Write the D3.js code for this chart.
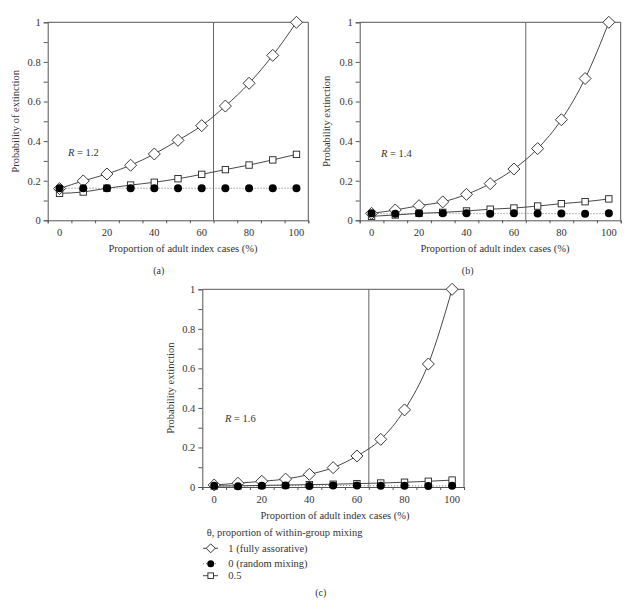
<!DOCTYPE html>
<html><head><meta charset="utf-8">
<script src="https://cdn.jsdelivr.net/npm/d3@7"></script>
<style>body{margin:0;background:#fff}svg{display:block}text{font-family:"Liberation Serif","Times New Roman","DejaVu Serif",serif;fill:#333}</style>
</head><body>
<svg id="c" width="641" height="603" font-family="Liberation Serif, serif"></svg>
<script>
const xs = [0,10,20,30,40,50,60,70,80,90,100];
const xTickLabels = [0,20,40,60,80,100];
const yTickLabels = [0,0.2,0.4,0.6,0.8,1];
const refLine = 65;
// Panel (a) R = 1.2
const aFull = [0.16,0.199,0.234,0.278,0.335,0.404,0.478,0.577,0.692,0.833,1.0];
const aRandom = [0.162,0.162,0.162,0.162,0.162,0.162,0.162,0.162,0.162,0.162,0.162];
const aHalf = [0.136,0.143,0.162,0.178,0.192,0.21,0.232,0.256,0.279,0.305,0.333];
// Panel (b) R = 1.4
const bFull = [0.035,0.052,0.074,0.093,0.131,0.185,0.259,0.362,0.508,0.716,1.0];
const bRandom = [0.035,0.033,0.035,0.036,0.035,0.033,0.036,0.034,0.034,0.033,0.035];
const bHalf = [0.02,0.027,0.035,0.04,0.047,0.056,0.062,0.072,0.084,0.094,0.108];
// Panel (c) R = 1.6
const cFull = [0.01,0.019,0.029,0.04,0.064,0.098,0.157,0.241,0.39,0.622,1.0];
const cRandom = [0.006,0.004,0.006,0.008,0.005,0.008,0.007,0.006,0.006,0.005,0.006];
const cHalf = [0.005,0.006,0.008,0.01,0.012,0.014,0.017,0.02,0.024,0.029,0.035];
const legendTitle = "θ, proportion of within-group mixing";
const legendLabels = ["1 (fully assorative)","0 (random mixing)","0.5"];

const svg = d3.select("#c");
const FONT = '"Liberation Serif","Times New Roman",serif';
const lineCol = "#333", axisCol = "#555";

function diamond(g, x, y, r){
  g.append("path").attr("d",`M${x},${y-r}L${x+r},${y}L${x},${y+r}L${x-r},${y}Z`)
   .attr("fill","#fff").attr("stroke","#222").attr("stroke-width",0.9);
}
function square(g, x, y, r){
  g.append("rect").attr("x",x-r).attr("y",y-r).attr("width",2*r).attr("height",2*r)
   .attr("fill","#fff").attr("stroke","#222").attr("stroke-width",0.9);
}
function dot(g, x, y, r){
  g.append("circle").attr("cx",x).attr("cy",y).attr("r",r).attr("fill","#000");
}

function panel(o){
  const x = d3.scaleLinear().domain([-5,105]).range([o.l,o.r]);
  const y = d3.scaleLinear().domain([0,1]).range([o.b,o.t]);
  const g = svg.append("g").style("font-family",FONT);
  // frame
  g.append("line").attr("x1",o.l).attr("x2",o.r).attr("y1",o.t).attr("y2",o.t).attr("stroke",axisCol);
  g.append("line").attr("x1",o.r).attr("x2",o.r).attr("y1",o.t).attr("y2",o.b).attr("stroke",axisCol);
  // y axis
  const ya = d3.axisLeft(y).tickValues(d3.range(0,1.01,0.1)).tickSize(4)
    .tickFormat(d => yTickLabels.some(v=>Math.abs(v-d)<1e-6) ? d3.format("~g")(+d.toFixed(1)) : "");
  const gy = g.append("g").attr("transform",`translate(${o.l},0)`).call(ya);
  // x axis
  const xa = d3.axisBottom(x).tickValues(d3.range(-5,106,10)).tickSize(3).tickFormat("");
  const gx = g.append("g").attr("transform",`translate(0,${o.b})`).call(xa);
  [gx,gy].forEach(a=>{a.attr("font-family",null);a.select(".domain").attr("stroke",axisCol);a.selectAll(".tick line").attr("stroke",axisCol);
    a.selectAll("text").style("font-family",FONT).style("font-size","10.5px").attr("fill","#333");});
  gy.selectAll(".tick text").attr("x",-7);
  g.selectAll(null).data(xTickLabels).enter().append("text")
    .attr("x",d=>x(d)).attr("y",o.b+16).attr("text-anchor","middle").style("font-size","10.5px").text(d=>d);
  // reference line
  g.append("line").attr("x1",x(refLine)).attr("x2",x(refLine)).attr("y1",o.t).attr("y2",o.b).attr("stroke","#666").attr("stroke-width",1);
  // series
  const lineGen = vals => d3.line().x((d,i)=>x(xs[i])).y(d=>y(d)).curve(d3.curveMonotoneX)(vals);
  g.append("path").attr("d",lineGen(o.random)).attr("fill","none").attr("stroke","#666").attr("stroke-width",0.9).attr("stroke-dasharray","1,2");
  g.append("path").attr("d",lineGen(o.half)).attr("fill","none").attr("stroke",lineCol).attr("stroke-width",0.9);
  g.append("path").attr("d",lineGen(o.full)).attr("fill","none").attr("stroke",lineCol).attr("stroke-width",0.9);
  o.half.forEach((v,i)=>square(g,x(xs[i]),y(v),3.2));
  o.full.forEach((v,i)=>diamond(g,x(xs[i]),y(v),6));
  o.random.forEach((v,i)=>dot(g,x(xs[i]),y(v),4));
  // labels
  g.append("text").attr("x",o.xlc).attr("y",o.b+32).attr("text-anchor","middle").style("font-size","10.5px").text("Proportion of adult index cases (%)");
  g.append("text").attr("transform",`translate(${o.yl},${(o.t+o.b)/2}) rotate(-90)`).attr("text-anchor","middle").style("font-size","10.5px").text(o.ylabel);
  const rt = g.append("text").attr("x",o.rx).attr("y",o.ry).style("font-size","10.5px");
  rt.append("tspan").style("font-style","italic").text("R");
  rt.append("tspan").text(" = "+o.R);
  g.append("text").attr("x",o.cx).attr("y",o.cy).attr("text-anchor","middle").style("font-size","10px").text(o.cap);
  return {x,y};
}

panel({l:47.7,r:308.3,t:22.3,b:220.3,full:aFull,random:aRandom,half:aHalf,ylabel:"Probability of extinction",yl:18.5,xlc:183,
  rx:68,ry:156,R:"1.2",cap:"(a)",cx:158.7,cy:274});
panel({l:359.7,r:620.7,t:22.3,b:220.3,full:bFull,random:bRandom,half:bHalf,ylabel:"Probability extinction",yl:330,xlc:495,
  rx:381,ry:157,R:"1.4",cap:"(b)",cx:467.7,cy:274});
panel({l:202.3,r:464,t:289.3,b:487,full:cFull,random:cRandom,half:cHalf,ylabel:"Probability extinction",yl:174,xlc:335,
  rx:225,ry:422,R:"1.6",cap:"(c)",cx:320.7,cy:596});

// legend
const lg = svg.append("g").style("font-family",FONT);
lg.append("text").attr("x",206.7).attr("y",536).style("font-size","10.5px").text(legendTitle);
const ly = [548.3,563.7,575.7];
ly.forEach((yy,i)=>{
  lg.append("line").attr("x1",203).attr("x2",218).attr("y1",yy).attr("y2",yy)
    .attr("stroke",i===1?"#666":lineCol).attr("stroke-width",0.9).attr("stroke-dasharray",i===1?"1,2":null);
  if(i===0) diamond(lg,210.7,yy,4.5);
  if(i===1) dot(lg,210.7,yy,3.5);
  if(i===2) square(lg,210.7,yy,2.8);
  lg.append("text").attr("x",228.3).attr("y",yy+3.5).style("font-size","10.5px").text(legendLabels[i]);
});
</script>
</body></html>
